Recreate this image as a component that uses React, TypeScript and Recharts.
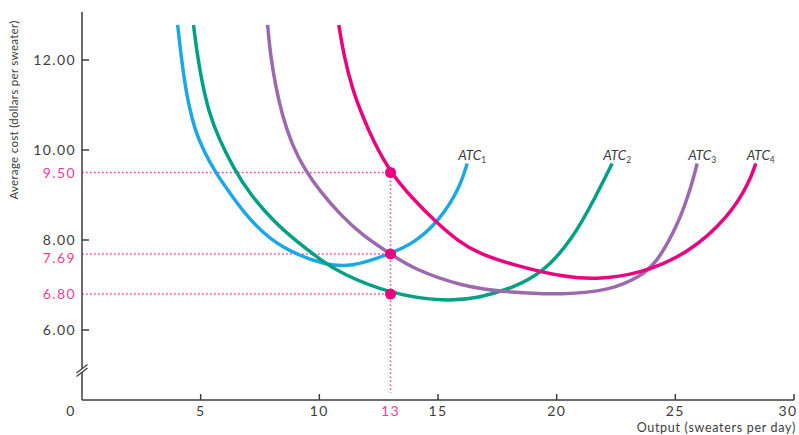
import { LineChart, Line, XAxis, YAxis, ReferenceLine, ReferenceDot, Label } from 'recharts';

// average total cost curves as [output, cost]
const atc1 = [
  [4.03, 12.78], [4.14, 12.26], [4.28, 11.67], [4.49, 11.0], [4.78, 10.41],
  [5.13, 9.98], [5.62, 9.5], [6.25, 9.03], [6.95, 8.52], [7.94, 8.0],
  [9.06, 7.67], [10.19, 7.46], [11.31, 7.39], [13, 7.69], [14.05, 7.95],
  [15.03, 8.42], [15.88, 9.11], [16.23, 9.7]
];
const atc2 = [
  [4.7, 12.78], [4.84, 12.18], [5.05, 11.52], [5.34, 10.85], [5.76, 10.26],
  [6.39, 9.59], [7.1, 9.0], [8.08, 8.41], [9.06, 7.96], [10.05, 7.56],
  [10.89, 7.26], [13, 6.8], [15.32, 6.63], [16.72, 6.71], [18.12, 6.93],
  [19.4, 7.26], [20.65, 8.0], [21.64, 8.96], [22.34, 9.7]
];
const atc3 = [
  [7.82, 12.78], [7.94, 12.11], [8.15, 11.44], [8.43, 10.78], [8.85, 10.11],
  [9.41, 9.54], [10.05, 9.07], [10.89, 8.56], [11.8, 8.11], [13, 7.69],
  [13.91, 7.37], [16.02, 6.96], [18.12, 6.83], [20.23, 6.78], [22.34, 6.89],
  [23.47, 7.18], [24.17, 7.45], [25.15, 8.37], [25.71, 9.26], [25.92, 9.7]
];
const atc4 = [
  [10.82, 12.78], [11.03, 12.11], [11.38, 11.37], [11.8, 10.78], [12.29, 10.18],
  [13, 9.5], [13.91, 8.93], [14.89, 8.41], [15.88, 7.96], [16.72, 7.7],
  [18.12, 7.45], [20.23, 7.18], [21.64, 7.12], [23.47, 7.24], [25.57, 7.7],
  [27.26, 8.52], [28.1, 9.26], [28.39, 9.7]
];

const xTicks = [0, 5, 10, 13, 15, 20, 25, 30];
const yTicks = [6, 6.8, 7.69, 8, 9.5, 10, 12];
const plantOutput = 13;
const keyCosts = [9.5, 7.69, 6.8];
const breakAt = 5.1;

const curves = [
  { name: 'ATC', sub: '1', data: atc1, color: '#1ba8e4' },
  { name: 'ATC', sub: '2', data: atc2, color: '#00a085' },
  { name: 'ATC', sub: '3', data: atc3, color: '#9b6aae' },
  { name: 'ATC', sub: '4', data: atc4, color: '#e8037f' }
];

const toPoints = (rows: number[][]) => rows.map(([x, y]) => ({ x, y }));

const PINK = '#ee3f95';
const DARK = '#3d3d3d';
const FONT = 'Lato, "Open Sans", sans-serif';

const YTick = (props: any) => {
  const { x, y, payload } = props;
  const v = payload.value;
  const pink = keyCosts.includes(v);
  // 7.69 sits just under 8.00, nudge it down a bit so the two don't collide
  const nudge = v === 7.69 ? 4 : 0;
  return (
    <g>
      {!pink && <line x1={x} x2={x + 7} y1={y} y2={y} stroke={DARK} strokeWidth={1.5} />}
      <text
        x={x - 6}
        y={y + 5 + nudge}
        textAnchor="end"
        fontSize={14}
        letterSpacing={1.4}
        fontFamily={FONT}
        fill={pink ? PINK : DARK}
      >
        {v.toFixed(2)}
      </text>
    </g>
  );
};

const XTick = (props: any) => {
  const { x, y, payload } = props;
  const v = payload.value;
  const pink = v === plantOutput;
  let tx = x;
  if (v === 0) tx = x - 11;
  if (v === 30) tx = x - 6;
  return (
    <g>
      {!pink && v !== 0 && <line x1={x} x2={x} y1={y} y2={y - 6} stroke={DARK} strokeWidth={1.5} />}
      <text
        x={tx}
        y={y + 15.5}
        textAnchor="middle"
        fontSize={14}
        letterSpacing={1.4}
        fontFamily={FONT}
        fill={pink ? PINK : DARK}
      >
        {v}
      </text>
    </g>
  );
};

const AxisBreak = (props: any) => {
  const { cx, cy } = props;
  return (
    <g>
      <polygon
        points={`${cx - 5.5},${cy + 2.5} ${cx + 5.5},${cy - 6} ${cx + 5.5},${cy - 2.5} ${cx - 5.5},${cy + 6}`}
        fill="#fff"
      />
      <line x1={cx - 5.5} y1={cy + 2.5} x2={cx + 5.5} y2={cy - 6} stroke={DARK} strokeWidth={1.3} />
      <line x1={cx - 5.5} y1={cy + 6} x2={cx + 5.5} y2={cy - 2.5} stroke={DARK} strokeWidth={1.3} />
    </g>
  );
};

const App = () => {
  return (
    <div style={{ position: 'absolute', left: 0, top: 0, background: '#fff' }}>
      <LineChart width={799} height={435} margin={{ top: 12, right: 5, bottom: 0, left: 0 }}>
        <XAxis
          type="number"
          dataKey="x"
          domain={[0, 30]}
          ticks={xTicks}
          interval={0}
          allowDataOverflow
          height={35}
          tickSize={0}
          tickMargin={0}
          tickLine={false}
          tick={<XTick />}
          axisLine={{ stroke: DARK, strokeWidth: 1.5 }}
        >
          <Label
            content={() => (
              <text
                x={796}
                y={432}
                textAnchor="end"
                fontSize={12.5}
                letterSpacing={0.7}
                fontFamily={FONT}
                fill={DARK}
              >
                Output (sweaters per day)
              </text>
            )}
          />
        </XAxis>
        <YAxis
          type="number"
          dataKey="y"
          domain={[4.444, 13.067]}
          ticks={yTicks}
          interval={0}
          allowDataOverflow
          width={82}
          tickSize={0}
          tickMargin={0}
          tickLine={false}
          tick={<YTick />}
          axisLine={{ stroke: DARK, strokeWidth: 1.5 }}
        >
          <Label
            content={() => (
              <text
                x={18}
                y={110}
                textAnchor="middle"
                fontSize={11.5}
                letterSpacing={0.3}
                fontFamily={FONT}
                fill={DARK}
                transform="rotate(-90 18 110)"
              >
                Average cost (dollars per sweater)
              </text>
            )}
          />
        </YAxis>

        {keyCosts.map((c) => (
          <ReferenceLine
            key={c}
            segment={[{ x: 0, y: c }, { x: plantOutput, y: c }]}
            stroke={PINK}
            strokeWidth={1.5}
            strokeDasharray="1.6 2.4"
          />
        ))}
        <ReferenceLine
          segment={[{ x: plantOutput, y: keyCosts[0] }, { x: plantOutput, y: 4.6 }]}
          stroke={PINK}
          strokeWidth={1.5}
          strokeDasharray="1.6 2.4"
        />

        {curves.map((c) => (
          <Line
            key={c.sub}
            data={toPoints(c.data)}
            dataKey="y"
            type="basis"
            stroke={c.color}
            strokeWidth={3.5}
            dot={false}
            activeDot={false}
            isAnimationActive={false}
          />
        ))}

        {curves.map((c) => {
          const [lx, ly] = c.data[c.data.length - 1];
          return (
            <ReferenceDot
              key={'lbl' + c.sub}
              x={lx}
              y={ly}
              ifOverflow="visible"
              shape={(p: any) => (
                <text x={p.cx + 5} y={p.cy - 4} textAnchor="middle" fontSize={13.5} fontFamily={FONT} fill={DARK}>
                  <tspan fontStyle="italic">{c.name}</tspan>
                  <tspan fontSize={8.5} dy={3}>{c.sub}</tspan>
                </text>
              )}
            />
          );
        })}

        {keyCosts.map((c) => (
          <ReferenceDot key={'dot' + c} x={plantOutput} y={c} r={5.5} fill="#e8037f" stroke="none" />
        ))}

        <ReferenceDot x={0} y={breakAt} ifOverflow="visible" shape={(p: any) => <AxisBreak {...p} />} />
      </LineChart>
    </div>
  );
};

export default App;
